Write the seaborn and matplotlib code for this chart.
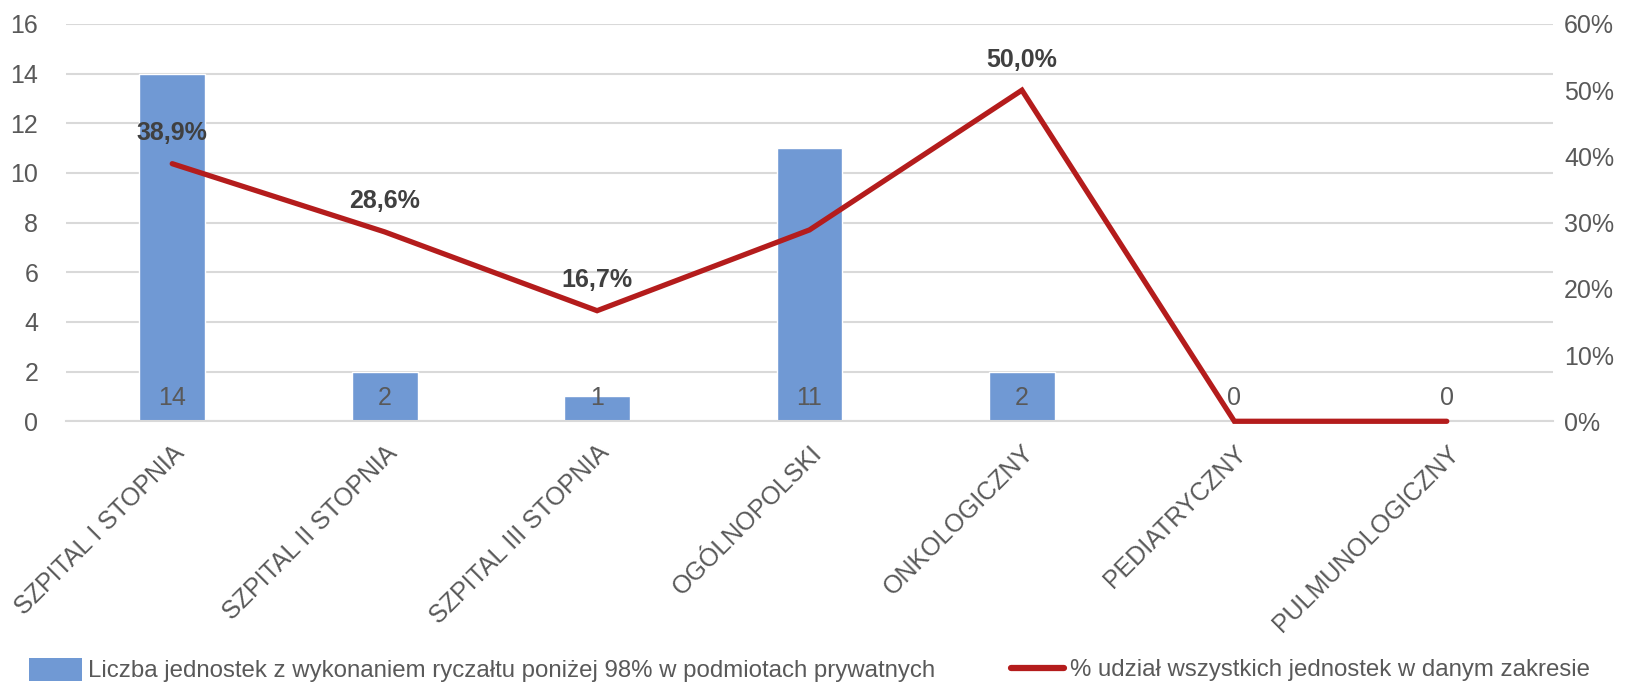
import matplotlib
matplotlib.use("Agg")
import pandas as pd
import seaborn as sns
import matplotlib.pyplot as plt
from matplotlib.lines import Line2D
from matplotlib.patches import Patch

categories = ["SZPITAL I STOPNIA", "SZPITAL II STOPNIA", "SZPITAL III STOPNIA",
              "OGÓLNOPOLSKI", "ONKOLOGICZNY", "PEDIATRYCZNY", "PULMUNOLOGICZNY"]
counts = [14, 2, 1, 11, 2, 0, 0]
shares = [38.9, 28.6, 16.7, 28.9, 50.0, 0.0, 0.0]
share_labels = ["38,9%", "28,6%", "16,7%", "", "50,0%", "", ""]

bar_name = "Liczba jednostek z wykonaniem ryczałtu poniżej 98% w podmiotach prywatnych"
line_name = "% udział wszystkich jednostek w danym zakresie"

bar_color = "#7099d4"
line_color = "#b41c1c"
text_color = "#595959"
grid_color = "#d9d9d9"
fs = 18

df = pd.DataFrame({"kat": categories, "liczba": counts, "udzial": shares})

sns.set_style("white")
plt.rcParams["font.family"] = ["Liberation Sans", "DejaVu Sans"]

fig = plt.figure(figsize=(16.26, 6.85), dpi=100)
ax = fig.add_axes([0.0406, 0.385, 0.9145, 0.58])

sns.barplot(data=df, x="kat", y="liczba", color=bar_color, width=0.31,
            saturation=1, ax=ax, zorder=2)
ax.set_ylim(0, 16)
ax.set_yticks(range(0, 17, 2))
ax.yaxis.grid(True, color=grid_color, linewidth=1.5, zorder=0)
ax.set_axisbelow(True)
for s in ["top", "left", "right"]:
    ax.spines[s].set_visible(False)
ax.spines["bottom"].set_color(grid_color)
ax.spines["bottom"].set_linewidth(1.5)
ax.set_xlabel("")
ax.set_ylabel("")
ax.tick_params(axis="y", length=0, labelsize=fs, labelcolor=text_color, pad=20)
ax.tick_params(axis="x", length=0, labelsize=fs, labelcolor=text_color, pad=14)
ax.set_xticks(range(len(categories)))
ax.set_xticklabels(categories, rotation=45, ha="right", rotation_mode="anchor")

for i, v in enumerate(counts):
    ax.annotate(str(v), (i, 0), xytext=(0, 17), textcoords="offset points",
                ha="center", va="center", fontsize=fs, color=text_color)

ax2 = ax.twinx()
sns.lineplot(data=df, x="kat", y="udzial", color=line_color, linewidth=3.8,
             ax=ax2, sort=False, zorder=3)
for ln in ax2.lines:
    ln.set_clip_on(False)
    ln.set_solid_capstyle("round")
    ln.set_solid_joinstyle("miter")
ax2.set_ylim(0, 60)
ax2.set_yticks(range(0, 61, 10))
ax2.set_yticklabels([f"{t}%" for t in range(0, 61, 10)])
ax2.set_ylabel("")
ax2.set_xlabel("")
for s in ["top", "left", "right", "bottom"]:
    ax2.spines[s].set_visible(False)
ax2.tick_params(axis="y", length=0, labelsize=fs, labelcolor=text_color, pad=8)
ax2.set_xlim(-0.5, len(categories) - 0.5)

for i, (v, lab) in enumerate(zip(shares, share_labels)):
    if lab:
        ax2.annotate(lab, (i, v), xytext=(0, 22), textcoords="offset points",
                     ha="center", va="center", fontsize=fs, fontweight="bold",
                     color="#404040")

leg1 = fig.legend([Patch(facecolor=bar_color, edgecolor="none")], [bar_name],
                  loc="center left", bbox_to_anchor=(0.012, 0.022),
                  frameon=False, fontsize=17.3, labelcolor=text_color,
                  handlelength=2.2, handleheight=1.1, handletextpad=0.25,
                  borderaxespad=0)
leg2 = fig.legend([Line2D([0], [0], color=line_color, linewidth=4.5)], [line_name],
                  loc="center left", bbox_to_anchor=(0.616, 0.022),
                  frameon=False, fontsize=17.3, labelcolor=text_color,
                  handlelength=2.2, handletextpad=0.25, borderaxespad=0)

fig.savefig("out.png", dpi=100)
